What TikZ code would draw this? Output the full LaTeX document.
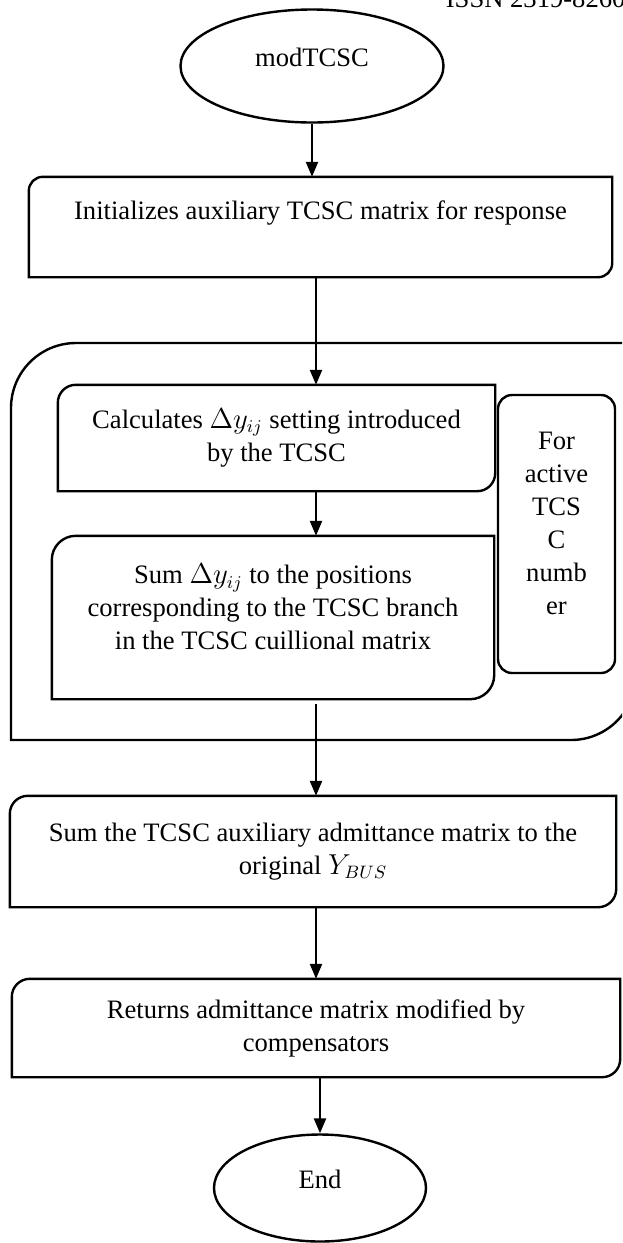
\documentclass[tikz,border=0pt]{standalone}
\usepackage{fontspec}
\setmainfont{Liberation Serif}
\usetikzlibrary{
  arrows.meta,
  positioning,
  shapes.geometric
}
% frame with round top-left and bottom-right corners
\newcommand{\snipFrame}[2]{%
  \draw ([xshift=#2]#1.north west) -- (#1.north east)
    -- ([yshift=#2]#1.south east) arc[start angle=0, end angle=-90, radius=#2]
    -- (#1.south west) -- ([yshift=-#2]#1.north west)
    arc[start angle=180, end angle=90, radius=#2] -- cycle;
}

\begin{document}
\begin{tikzpicture}[x=0.5pt, y=0.5pt, line width=1.2pt,
  >={Triangle[width=6pt, length=7.5pt]},
  font=\fontsize{13.3}{16.5}\selectfont,
  terminal/.style={draw, ellipse, inner sep=0pt},
  stepbox/.style={align=center, inner sep=0pt},
  sidebox/.style={draw, rounded corners=7pt, align=center, inner sep=0pt},
  flow/.style={->}]

  \useasboundingbox (0,0) rectangle (622,-1243);
  \clip (0,0) rectangle (622,-1243);

  \node[anchor=base west] (issn) at (438,-7) {ISSN 2319-8260};

  \node[terminal, align=center, minimum width=131.5pt, minimum height=56.5pt] (start) at (312,-66)
    {modTCSC\\[-8pt]\mbox{}};
  \node[stepbox, minimum width=290.5pt, minimum height=49pt] (init) at (320.5,-227)
    {Initializes auxiliary TCSC matrix for response\\ \mbox{}};

  % loop frame
  \draw (11,-408) arc[start angle=180, end angle=90, radius=32.5pt] -- (636,-343)
    -- (636,-675) arc[start angle=0, end angle=-90, radius=32.5pt] -- (11,-740) -- cycle;

  \node[stepbox, minimum width=217.5pt, minimum height=52pt] (calc) at (276.5,-438)
    {Calculates $\Delta y_{ij}$ setting introduced\\by the TCSC};
  \node[stepbox, minimum width=220pt, minimum height=80.5pt] (sumdy) at (273,-617.5)
    {Sum $\Delta y_{ij}$ to the positions\\corresponding to the TCSC branch\\in the TCSC cuillional matrix\\[-6pt]\mbox{}};
  \node[sidebox, minimum width=58.5pt, minimum height=139pt] (forloop) at (556.5,-534)
    {For\\active\\TCS\\C\\numb\\er\\[-6pt]\mbox{}};

  \node[stepbox, minimum width=302pt, minimum height=54.5pt] (sumY) at (313,-851.5)
    {Sum the TCSC auxiliary admittance matrix to the\\original $Y_{BUS}$};
  \node[stepbox, minimum width=303pt, minimum height=48pt] (ret) at (316,-1028)
    {Returns admittance matrix modified by\\compensators};
  \node[terminal, align=center, minimum width=106pt, minimum height=53.5pt] (end) at (320,-1188)
    {End\\[-8pt]\mbox{}};

  \snipFrame{init}{7pt}
  \snipFrame{calc}{9pt}
  \snipFrame{sumdy}{12pt}
  \snipFrame{sumY}{9pt}
  \snipFrame{ret}{9pt}

  % connectors
  \coordinate (spine) at (316,0);
  \draw[flow] (start.south) -- (start.south |- init.north);
  \draw[flow] (init.south -| spine) -- (calc.north -| spine);
  \draw[flow] (calc.south -| spine) -- (sumdy.north -| spine);
  \draw[flow, shorten <=2.5pt] (sumdy.south -| spine) -- (sumY.north -| spine);
  \draw[flow] (sumY.south -| spine) -- (ret.north -| spine);
  \draw[flow] (ret.south -| end) -- (end.north);

\end{tikzpicture}
\end{document}
